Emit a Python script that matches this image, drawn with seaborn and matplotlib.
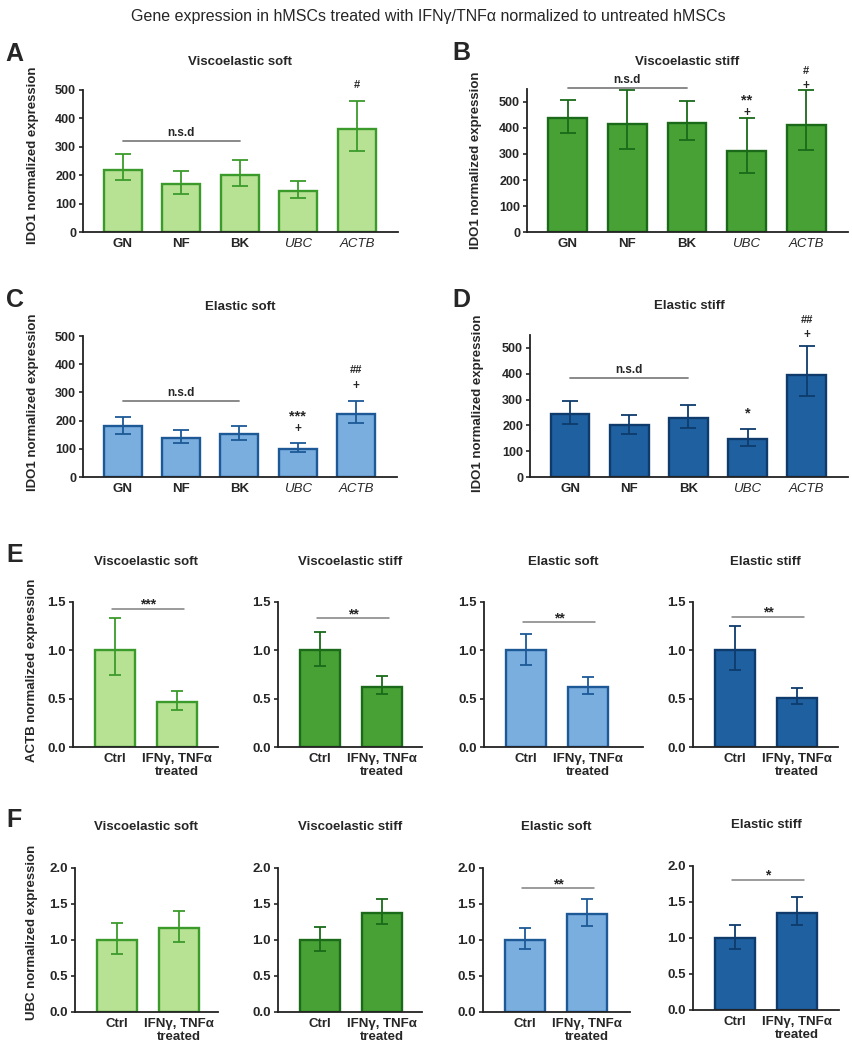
import matplotlib
matplotlib.use("Agg")
import matplotlib.pyplot as plt
import seaborn as sns
import pandas as pd
import numpy as np

sns.set_style("white")
plt.rcParams["font.family"] = ["Liberation Sans", "DejaVu Sans"]

# ---------------- data ----------------
conditions = ["Viscoelastic soft", "Viscoelastic stiff", "Elastic soft", "Elastic stiff"]
genes = ["GN", "NF", "BK", "UBC", "ACTB"]
groups = ["Ctrl", "IFNγ, TNFα\ntreated"]

# IDO1 (panels A-D): mean and asymmetric error limits
ido_mean = [[220, 168, 200, 143, 362],
            [437, 415, 418, 313, 412],
            [180, 139, 151, 100, 225],
            [245, 200, 228, 146, 396]]
ido_lo = [[183, 133, 161, 118, 286],
          [379, 320, 352, 228, 314],
          [154, 122, 130, 89, 191],
          [204, 168, 189, 120, 312]]
ido_hi = [[273, 215, 255, 179, 463],
          [508, 545, 503, 437, 545],
          [213, 165, 181, 121, 270],
          [296, 242, 280, 187, 509]]
ido_ymax = [500, 550, 500, 550]
nsd_level = [321, 554, 270, 385]
# (gene index, text, y) marks above bars
ido_marks = [[(4, "#", 520)],
             [(3, "+", 462), (3, "**", 524), (4, "+", 567), (4, "#", 622)],
             [(3, "+", 173), (3, "***", 232), (4, "+", 325), (4, "##", 382)],
             [(3, "*", 264), (4, "+", 552), (4, "##", 612)]]

# ACTB (panel E)
actb_ctrl = [1.0, 1.0, 1.0, 1.0]
actb_ctrl_lo = [0.75, 0.84, 0.85, 0.80]
actb_ctrl_hi = [1.33, 1.19, 1.17, 1.25]
actb_trt = [0.466, 0.625, 0.62, 0.51]
actb_trt_lo = [0.38, 0.55, 0.55, 0.44]
actb_trt_hi = [0.58, 0.73, 0.72, 0.61]
actb_sig = ["***", "**", "**", "**"]
actb_sig_level = [1.43, 1.33, 1.29, 1.35]

# UBC (panel F)
ubc_ctrl = [1.0, 1.0, 1.0, 1.0]
ubc_ctrl_lo = [0.81, 0.85, 0.87, 0.85]
ubc_ctrl_hi = [1.23, 1.18, 1.16, 1.18]
ubc_trt = [1.16, 1.375, 1.366, 1.35]
ubc_trt_lo = [0.97, 1.22, 1.20, 1.18]
ubc_trt_hi = [1.40, 1.565, 1.565, 1.57]
ubc_sig = ["", "", "**", "*"]
ubc_sig_level = [None, None, 1.72, 1.81]

fills = ["#b7e193", "#47a134", "#79aede", "#1f61a0"]
edges = ["#3b9b2a", "#1a6a1a", "#1d5997", "#0e3b6c"]

W, H = 852, 1050
fig = plt.figure(figsize=(W / 100, H / 100), dpi=100)

# visual centre of a glyph above its baseline, in em
GLYPH_MID = {"*": 0.58, "+": 0.34, "#": 0.36}
MARK_SIZE = {"*": 10.5, "+": 8.5, "#": 8}


def px_axes(left, right, top, bottom):
    return fig.add_axes([left / W, 1 - bottom / H, (right - left) / W, (bottom - top) / H])


def ftext(x, y, s, **kw):
    fig.text(x / W, 1 - y / H, s, **kw)


def mark(ax, x, y, txt, size):
    # place the glyph so that its visible centre sits at (x, y)
    off = -GLYPH_MID.get(txt[0], 0.36) * size
    ax.annotate(txt, (x, y), xytext=(0, off), textcoords="offset points",
                ha="center", va="baseline", fontsize=size, fontweight="bold",
                annotation_clip=False)


def bar_panel(ax, labels, means, lo, hi, fill, edge, capsize):
    df = pd.DataFrame({"group": labels, "value": means})
    sns.barplot(data=df, x="group", y="value", ax=ax, color=fill, saturation=1,
                edgecolor=edge, linewidth=1.7, width=0.65, errorbar=None)
    x = np.arange(len(labels))
    yerr = [np.subtract(means, lo), np.subtract(hi, means)]
    ax.errorbar(x, means, yerr=yerr, fmt="none", ecolor=edge, elinewidth=1.3,
                capsize=capsize, capthick=1.3)
    ax.set_xlabel("")
    ax.set_ylabel("")
    sns.despine(ax=ax)
    for s in ["left", "bottom"]:
        ax.spines[s].set_linewidth(1.3)
        ax.spines[s].set_color("#222222")
    ax.tick_params(axis="y", left=True, length=3, width=1.2, labelsize=9, pad=2)
    ax.tick_params(axis="x", bottom=False, length=0, labelsize=9.5, pad=4)


# ---------------- panels A-D ----------------
ido_boxes = [(83, 398, 90, 232), (527, 848, 89, 232), (83, 397, 336, 477), (530, 848, 335, 477)]
ido_titles_y = [62, 62, 307, 306]
letters_ad = [("A", 5, 54), ("B", 452, 53), ("C", 6, 300), ("D", 452, 300)]
ylab_ad = [(33, 155), (476, 160), (33, 402), (478, 403)]

for i in range(4):
    ax = px_axes(*ido_boxes[i])
    bar_panel(ax, genes, ido_mean[i], ido_lo[i], ido_hi[i], fills[i], edges[i], 6)
    ax.set_ylim(0, ido_ymax[i])
    ax.set_xlim(-0.68, 4.7)
    ax.set_yticks(range(0, 501, 100))
    for lbl in ax.get_yticklabels():
        lbl.set_fontweight("bold")
    ax.set_xticks(range(len(genes)), genes)
    for lbl in ax.get_xticklabels():
        if lbl.get_text() in ("UBC", "ACTB"):
            lbl.set_fontstyle("italic")
        else:
            lbl.set_fontweight("bold")
    ax.plot([0, 2], [nsd_level[i]] * 2, color="#808080", lw=1.3, clip_on=False)
    ax.text(1, nsd_level[i] + ido_ymax[i] * 0.012, "n.s.d", ha="center", va="bottom",
            fontsize=8.5, fontweight="bold")
    for gi, txt, yv in ido_marks[i]:
        mark(ax, gi, yv, txt, MARK_SIZE[txt[0]])
    cx = (ido_boxes[i][0] + ido_boxes[i][1]) / 2
    ftext(cx, ido_titles_y[i], conditions[i], ha="center", va="center",
          fontsize=9.5, fontweight="bold")
    ftext(letters_ad[i][1], letters_ad[i][2], letters_ad[i][0], ha="left", va="center",
          fontsize=18, fontweight="bold")
    ftext(ylab_ad[i][0], ylab_ad[i][1], "IDO1 normalized expression", rotation=90,
          ha="center", va="center", fontsize=9.5, fontweight="bold")

# ---------------- panels E and F ----------------
e_boxes = [(73, 218, 602, 747), (278, 422, 602, 747), (484, 643, 602, 747), (693, 838, 602, 747)]
f_boxes = [(75, 218, 868, 1012), (278, 422, 868, 1012), (483, 630, 868, 1012), (693, 839, 866, 1010)]
e_title_y = [562, 562, 562, 562]
f_title_y = [827, 827, 827, 825]

rows = [
    (e_boxes, e_title_y, actb_ctrl, actb_ctrl_lo, actb_ctrl_hi, actb_trt, actb_trt_lo,
     actb_trt_hi, actb_sig, actb_sig_level, 1.5, "ACTB normalized expression", "E", 555, 670),
    (f_boxes, f_title_y, ubc_ctrl, ubc_ctrl_lo, ubc_ctrl_hi, ubc_trt, ubc_trt_lo,
     ubc_trt_hi, ubc_sig, ubc_sig_level, 2.0, "UBC normalized expression", "F", 820, 932),
]

for (boxes, ty, c, clo, chi, t, tlo, thi, sig, sig_lv, ymax, ylab, letter, ly, yly) in rows:
    for j in range(4):
        box = boxes[j]
        ax = px_axes(*box)
        bar_panel(ax, groups, [c[j], t[j]], [clo[j], tlo[j]], [chi[j], thi[j]],
                  fills[j], edges[j], 4.5)
        ax.set_ylim(0, ymax)
        first_center = box[0] + 42
        ax.set_xlim(-0.68, (box[1] - first_center) / 62)
        yt = np.arange(0, ymax + 0.01, 0.5)
        ax.set_yticks(yt, [f"{v:.1f}" for v in yt])
        ax.tick_params(axis="y", labelsize=9.5)
        for lbl in ax.get_yticklabels():
            lbl.set_fontweight("bold")
        ax.set_xticks([0, 1], groups)
        for lbl in ax.get_xticklabels():
            lbl.set_fontweight("bold")
            lbl.set_multialignment("center")
        if sig[j]:
            ax.plot([-0.05, 1.12], [sig_lv[j]] * 2, color="#808080", lw=1.1, clip_on=False)
            mark(ax, 0.53, sig_lv[j] + ymax * 0.055, sig[j], 10)
        ftext((box[0] + box[1]) / 2, ty[j], conditions[j], ha="center", va="center",
              fontsize=9.5, fontweight="bold")
    ftext(6, ly, letter, ha="left", va="center", fontsize=18, fontweight="bold")
    ftext(32, yly, ylab, rotation=90, ha="center", va="center", fontsize=9.5,
          fontweight="bold")

ftext(428, 17, "Gene expression in hMSCs treated with IFNγ/TNFα normalized to untreated hMSCs",
      ha="center", va="center", fontsize=11.5)

fig.savefig("out.png", dpi=100)
print("Saved: out.png")
